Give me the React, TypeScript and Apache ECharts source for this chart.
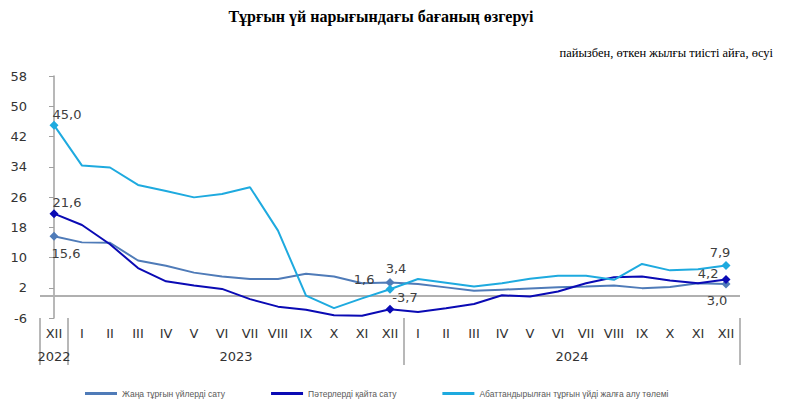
import React, { useEffect, useRef } from "react";
import * as echarts from "echarts";

const months = ["XII", "I", "II", "III", "IV", "V", "VI", "VII", "VIII", "IX", "X", "XI", "XII", "I", "II", "III", "IV", "V", "VI", "VII", "VIII", "IX", "X", "XI", "XII"];
const years = ["2022", "2023", "2024"];
const yearCenters = [0, 6.5, 18.5];
const yearBounds = [-0.5, 0.5, 12.5, 24.5];

const seriesNames = [
  "Жаңа тұрғын үйлерді сату",
  "Пәтерлерді қайта сату",
  "Абаттандырылған тұрғын үйді жалға алу төлемі",
];

const newHousing = [15.6, 14.0, 13.9, 9.2, 7.8, 6.0, 5.0, 4.3, 4.3, 5.7, 5.0, 3.2, 3.4, 3.0, 2.1, 1.2, 1.5, 1.8, 2.1, 2.3, 2.6, 1.9, 2.2, 3.2, 3.0];
const resale = [21.6, 18.6, 13.5, 7.2, 3.7, 2.6, 1.7, -1.0, -3.0, -3.8, -5.3, -5.4, -3.7, -4.4, -3.4, -2.3, 0.0, -0.3, 1.0, 3.2, 4.8, 5.0, 3.9, 3.2, 4.2];
const rent = [45.0, 34.3, 33.8, 29.2, 27.6, 25.9, 26.8, 28.6, 17.1, -0.1, -3.4, -0.8, 1.6, 4.3, 3.3, 2.3, 3.2, 4.4, 5.2, 5.2, 4.1, 8.3, 6.6, 6.9, 7.9];

const markerIdx = [0, 12, 24];

const colors = ["#4f7bb8", "#0a0ab4", "#1eaadf"];

// label placement per series for marked points (style only)
const labelCfg: any[] = [
  {
    0: { position: "bottom", distance: 6, offset: [12, 0] },
    12: { position: "top", distance: 3, offset: [6, 0] },
    24: { position: "bottom", distance: 6, offset: [-9, 0] },
  },
  {
    0: { position: "top", distance: 0, offset: [13, 0] },
    12: { position: "top", distance: 1, offset: [15, 0] },
    24: { position: "left", distance: 3, offset: [0, -6] },
  },
  {
    0: { position: "top", distance: 0, offset: [13, 0] },
    12: { position: "left", distance: 11, offset: [0, -10] },
    24: { position: "top", distance: 2, offset: [-6, 0] },
  },
];

const fmt = (v: number) => v.toFixed(1).replace(".", ",");

function buildData(values: number[], si: number) {
  return values.map((v, i) => {
    if (markerIdx.includes(i)) {
      const c = labelCfg[si][i];
      return {
        value: v,
        symbol: "diamond",
        symbolSize: 9,
        label: {
          show: true,
          formatter: fmt(v),
          position: c.position,
          distance: c.distance,
          offset: c.offset,
          color: "#404040",
          fontSize: 13,
          fontFamily: "DejaVu Sans",
        },
      };
    }
    return { value: v, symbol: "none" };
  });
}

export default function App() {
  const ref = useRef<HTMLDivElement>(null);
  useEffect(() => {
    if (!ref.current) return;
    const chart = echarts.init(ref.current, null, { renderer: "svg" });
    const allSeries = [newHousing, resale, rent].map((vals, si) => ({
      name: seriesNames[si],
      type: "line",
      data: buildData(vals, si),
      xAxisIndex: 0,
      yAxisIndex: 0,
      showAllSymbol: true,
      color: colors[si],
      lineStyle: { width: 2, color: colors[si] },
      itemStyle: { color: colors[si] },
      z: 3 + si,
      ...(si === 0
        ? {
            markLine: {
              silent: true,
              symbol: ["none", "none"],
              label: { show: false },
              lineStyle: { color: "#b0b0b0", width: 2, type: "solid" },
              data: [{ yAxis: 0 }],
              z: 1,
            },
          }
        : {}),
    }));
    chart.setOption({
      animation: false,
      textStyle: { fontFamily: "DejaVu Sans" },
      title: [
        {
          text: "Тұрғын үй нарығындағы бағаның өзгеруі",
          left: 376,
          top: 3,
          textAlign: "center",
          textStyle: { fontFamily: "Liberation Serif", fontWeight: "bold", fontSize: 16, color: "#000" },
        },
        {
          text: "пайызбен, өткен жылғы тиісті айға, өсуі",
          right: 22,
          top: 41,
          textStyle: { fontFamily: "Liberation Serif", fontWeight: "normal", fontSize: 12.5, color: "#000" },
        },
      ],
      legend: {
        data: seriesNames,
        left: 85,
        top: 389,
        padding: 0,
        icon: "rect",
        itemWidth: 32,
        itemHeight: 3,
        itemGap: 46,
        textStyle: { fontSize: 8.5, color: "#595959", fontFamily: "Liberation Sans" },
      },
      grid: { left: 40, right: 60, top: 76, bottom: 85, containLabel: false },
      xAxis: [
        {
          type: "category",
          data: months,
          boundaryGap: true,
          axisLine: { show: false },
          axisTick: { show: false },
          axisLabel: { interval: 0, margin: 9, fontSize: 13, color: "#333" },
          splitLine: { show: false },
        },
        {
          type: "value",
          min: -0.5,
          max: 24.5,
          position: "bottom",
          axisLine: { show: false },
          splitLine: { show: false },
          axisTick: {
            show: true,
            customValues: yearBounds,
            length: 47,
            lineStyle: { color: "#a0a0a0", width: 1.5 },
          },
          axisLabel: {
            customValues: yearCenters,
            formatter: (v: number) => {
              const k = yearCenters.indexOf(v);
              return k >= 0 ? years[k] : "";
            },
            margin: 32,
            fontSize: 13,
            color: "#333",
          },
        },
      ],
      yAxis: {
        type: "value",
        min: -6,
        max: 58,
        interval: 8,
        axisLine: { show: true, lineStyle: { color: "#a0a0a0", width: 1.5 } },
        axisTick: { show: true, length: 5, lineStyle: { color: "#a0a0a0" } },
        axisLabel: { fontSize: 13, color: "#333", margin: 13 },
        splitLine: { show: false },
      },
      series: allSeries,
    });
    return () => chart.dispose();
  }, []);
  return <div ref={ref} style={{ width: 800, height: 403, position: "absolute", left: 0, top: 0 }} />;
}
